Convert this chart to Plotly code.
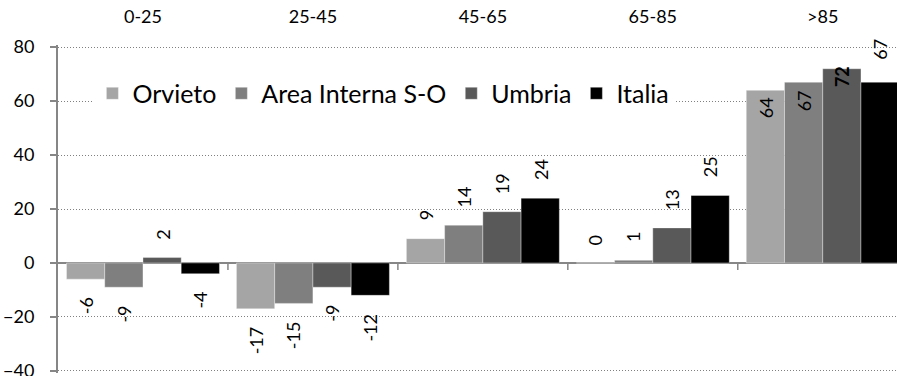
import plotly.graph_objects as go

# Age classes (categories) and the variation for each territory
age_classes = ["0-25", "25-45", "45-65", "65-85", ">85"]
orvieto = [-6, -17, 9, 0, 64]
area_interna = [-9, -15, 14, 1, 67]
umbria = [2, -9, 19, 13, 72]
italia = [-4, -12, 24, 25, 67]

series_names = ["Orvieto", "Area Interna S-O", "Umbria", "Italia"]
series_values = [orvieto, area_interna, umbria, italia]
series_colors = ["#A5A5A5", "#7F7F7F", "#595959", "#000000"]

FONT = "Lato, Carlito, Calibri, sans-serif"
AXIS_GREY = "#868686"
BARGAP = 0.1
N = len(series_names)
bar_w = (1 - BARGAP) / N

fig = go.Figure()
for name, vals, col in zip(series_names, series_values, series_colors):
    fig.add_trace(go.Bar(
        x=age_classes, y=vals, name=name,
        marker=dict(color=col, line=dict(color="rgba(255,255,255,0.35)", width=1)),
    ))

# Value labels, rotated, just beyond the end of each bar.
# In the last class the labels are pulled back inside the plot area.
label_overrides = {
    (0, 4): ("top", -5, False),
    (1, 4): ("top", -6, False),
    (2, 4): ("top", 5, True),
    (3, 4): ("bottom", 20, False),
}
annotations = []
for j, vals in enumerate(series_values):
    offset = (j - (N - 1) / 2) * bar_w
    for i, v in enumerate(vals):
        if (j, i) in label_overrides:
            anchor, shift, bold = label_overrides[(j, i)]
        elif v >= 0:
            anchor, shift, bold = "bottom", 16, False
        else:
            anchor, shift, bold = "top", -16, False
        txt = f"{v}"
        if bold:
            txt = f"<b>{txt}</b>"
        annotations.append(dict(
            x=i + offset, y=v, xref="x", yref="y", text=txt,
            showarrow=False, textangle=-90, yanchor=anchor, xanchor="center",
            yshift=shift, font=dict(family=FONT, size=18, color="#000"),
        ))

# Tick marks on the zero line between age classes
shapes = []
for b in range(1, len(age_classes)):
    shapes.append(dict(
        type="line", xref="x", yref="y", x0=b - 0.5, x1=b - 0.5,
        ysizemode="pixel", yanchor=0, y0=0, y1=-7,
        line=dict(color=AXIS_GREY, width=1.5),
    ))

fig.update_layout(
    template="none",
    width=897, height=376,
    margin=dict(l=58, r=0, t=45, b=3, pad=0),
    paper_bgcolor="white", plot_bgcolor="white",
    barmode="group", bargap=BARGAP, bargroupgap=0,
    font=dict(family=FONT, size=18, color="#000"),
    showlegend=True,
    legend=dict(
        orientation="h", x=0.041, xanchor="left", y=0.852, yanchor="middle",
        bgcolor="white", font=dict(family=FONT, size=25, color="#000"),
        traceorder="normal",
    ),
    annotations=annotations,
    shapes=shapes,
    xaxis=dict(
        side="top", type="category", range=[-0.5, 4.437],
        automargin=False,
        showline=False, showgrid=False, zeroline=False,
        ticks="outside", ticklen=14, tickcolor="rgba(0,0,0,0)",
        tickfont=dict(family=FONT, size=18, color="#000"),
        fixedrange=True,
    ),
    yaxis=dict(
        range=[-40.8, 80.8], tickvals=[-40, -20, 0, 20, 40, 60, 80],
        automargin=False,
        showline=True, linecolor=AXIS_GREY, linewidth=2,
        ticks="outside", ticklen=6, tickcolor=AXIS_GREY, tickwidth=1.5,
        ticklabelstandoff=12, ticklabeloverflow="allow",
        showgrid=True, gridcolor="#808080", gridwidth=1, griddash="1px,2px",
        zeroline=True, zerolinecolor=AXIS_GREY, zerolinewidth=2,
        tickfont=dict(family=FONT, size=18, color="#000"),
        fixedrange=True,
    ),
)

fig.write_html("out.html")
